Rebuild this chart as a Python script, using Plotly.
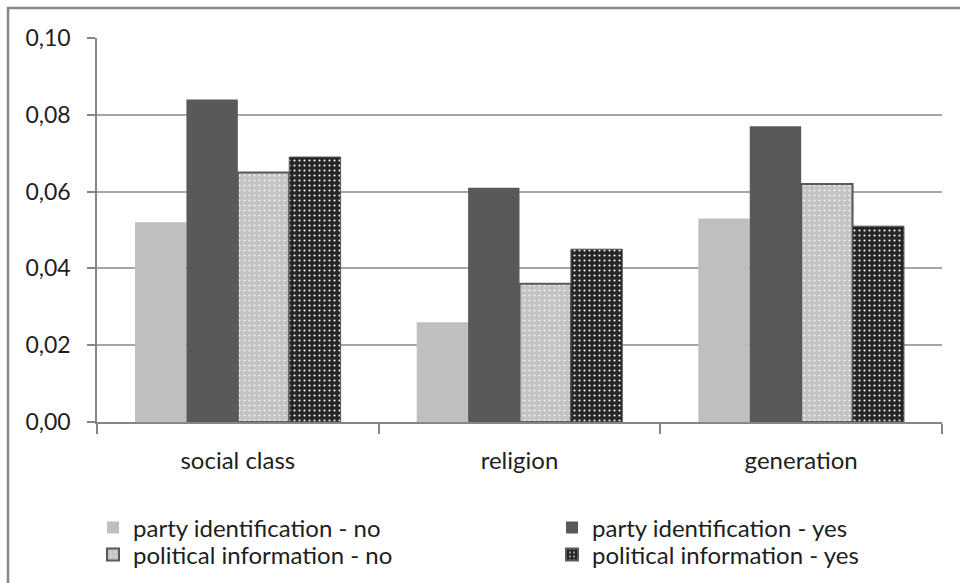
import plotly.graph_objects as go

categories = ["social class", "religion", "generation"]
series_names = [
    "party identification - no",
    "party identification - yes",
    "political information - no",
    "political information - yes",
]
party_id_no = [0.052, 0.026, 0.053]
party_id_yes = [0.084, 0.061, 0.077]
pol_info_no = [0.065, 0.036, 0.062]
pol_info_yes = [0.069, 0.045, 0.051]
y_ticks = [0.0, 0.02, 0.04, 0.06, 0.08, 0.10]

FONT = "Lato"
TEXT = "#1e1e1e"
GRID = "#a6a6a6"
AXIS = "#868686"

fig = go.Figure()

# first legend row: party identification, second row: political information
fig.add_trace(go.Bar(
    name=series_names[0], x=categories, y=party_id_no, legend="legend",
    marker=dict(color="#bfbfbf", line=dict(width=0)),
))
fig.add_trace(go.Bar(
    name=series_names[1], x=categories, y=party_id_yes, legend="legend",
    marker=dict(color="#595959", line=dict(width=0)),
))
fig.add_trace(go.Bar(
    name=series_names[2], x=categories, y=pol_info_no, legend="legend2",
    marker=dict(
        color="#c4c4c4",
        line=dict(color="#595959", width=2),
        pattern=dict(shape=".", bgcolor="#c4c4c4", fgcolor="#f4f4f4",
                     size=5, solidity=0.12, fillmode="replace"),
    ),
))
fig.add_trace(go.Bar(
    name=series_names[3], x=categories, y=pol_info_yes, legend="legend2",
    marker=dict(
        color="#262626",
        line=dict(color="#5a5a5a", width=1),
        pattern=dict(shape=".", bgcolor="#262626", fgcolor="#ffffff",
                     size=5, solidity=0.14, fillmode="replace"),
    ),
))

# chart-area frame (extends past the right and bottom edges of the page)
fig.add_shape(type="rect", xref="paper", yref="paper",
              x0=-0.1053, x1=1.2, y0=-1.0, y1=1.078,
              line=dict(color=AXIS, width=2.5), fillcolor="rgba(0,0,0,0)",
              layer="below")

legend_common = dict(
    orientation="h", x=-0.0047, xanchor="left", yanchor="middle",
    entrywidth=414, entrywidthmode="pixels",
    font=dict(family=FONT, size=24, color=TEXT),
    traceorder="normal", itemsizing="constant",
    bgcolor="rgba(0,0,0,0)",
)

fig.update_layout(
    width=960, height=583,
    margin=dict(l=97, r=18, t=38, b=161, autoexpand=False),
    paper_bgcolor="white", plot_bgcolor="white",
    separators=", ",
    barmode="group", bargap=0.27, bargroupgap=0.0,
    font=dict(family=FONT, size=24, color=TEXT),
    showlegend=True,
    legend=dict(y=-0.276, **legend_common),
    legend2=dict(y=-0.346, **legend_common),
)

fig.update_xaxes(
    showgrid=False, showline=True, linecolor=AXIS, linewidth=1.5,
    ticks="outside", tickson="boundaries", ticklen=10, tickcolor=AXIS,
    tickwidth=1.5, tickfont=dict(family=FONT, size=24, color=TEXT),
    ticklabelstandoff=16,
)
fig.update_yaxes(
    range=[0, 0.10], tickvals=y_ticks, tickformat=".2f",
    showgrid=True, gridcolor=GRID, gridwidth=1.5,
    showline=True, linecolor=AXIS, linewidth=1.5,
    ticks="outside", ticklen=8, tickcolor=AXIS, tickwidth=1.5,
    tickfont=dict(family=FONT, size=23, color=TEXT),
    ticklabelstandoff=12, zeroline=False,
)

fig.write_html("out.html")
